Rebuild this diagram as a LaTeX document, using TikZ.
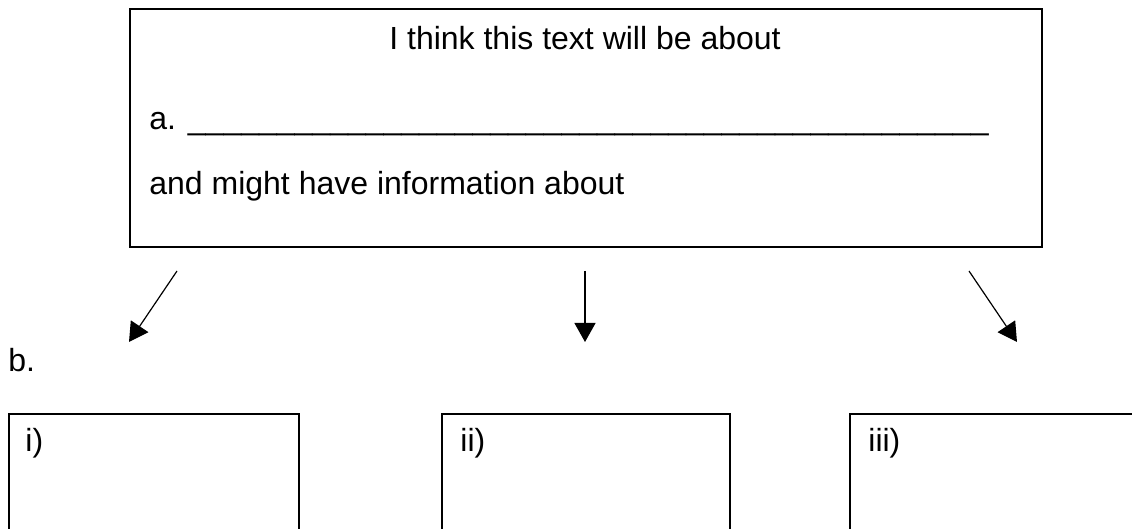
\documentclass[tikz,border=0pt]{standalone}
\usepackage{fontspec}
\setmainfont{Liberation Sans}
\usetikzlibrary{arrows.meta}
\begin{document}
\begin{tikzpicture}[x=0.5pt,y=-0.5pt,
  boxline/.style={draw=black, line width=1pt, inner sep=0pt},
  txt/.style={inner sep=0pt, font=\fontsize{16}{19}\selectfont, anchor=base west},
  arr/.style={line width=0.6pt, -{Triangle[length=9.5pt,width=10.5pt]}}]
\useasboundingbox (0,0) rectangle (1132,529);
\clip (0,0) rectangle (1132,529);
% top box
\node[boxline, minimum width=456pt, minimum height=118.75pt, anchor=north west] (top) at (129,8.5) {};
\node[txt, anchor=base] (l1) at (585,50) {I think this text will be about};
\node[txt] (l2) at (149,130) {a. \_\_\_\_\_\_\_\_\_\_\_\_\_\_\_\_\_\_\_\_\_\_\_\_\_\_\_\_\_\_\_\_\_\_\_\_\_\_\_\_\_\_\_\_\_};
\node[txt] (l3) at (149,195) {and might have information about};
% label b
\node[txt] (lb) at (8,372) {b.};
% bottom boxes
\node[boxline, minimum width=145pt, minimum height=70pt, anchor=north west] (bi) at (8,413) {};
\node[boxline, minimum width=144pt, minimum height=70pt, anchor=north west] (bii) at (441,413) {};
\node[boxline, minimum width=148pt, minimum height=70pt, anchor=north west] (biii) at (849,413) {};
\node[txt] (ti) at (25,452) {i)};
\node[txt] (tii) at (460,452) {ii)};
\node[txt] (tiii) at (868,452) {iii)};
% arrows
\coordinate (s1) at (177,271);
\coordinate (e1) at (129,342);
\coordinate (s2) at (585,271);
\coordinate (e2) at (585,342);
\coordinate (s3) at (969,271);
\coordinate (e3) at (1017,342);
\draw[arr] (s1) -- (e1);
\draw[arr] (s2) -- (e2);
\draw[arr] (s3) -- (e3);
\end{tikzpicture}
\end{document}
